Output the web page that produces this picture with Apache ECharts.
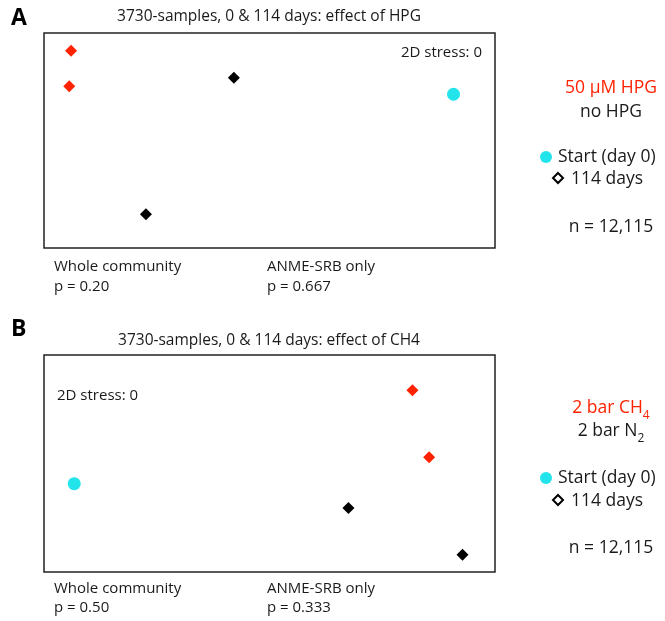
<!DOCTYPE html>
<html>
<head>
<meta charset="utf-8">
<script src="https://cdn.jsdelivr.net/npm/echarts@6/dist/echarts.min.js"></script>
<style>html,body{margin:0;padding:0;background:#fff}#c{width:665px;height:621px}</style>
</head>
<body>
<div id="c"></div>
<script>
// NMDS coordinates (axis units 0-100)
const hpgA = [[6.0, 91.8], [5.6, 75.2]];
const noHpgA = [[42.1, 79.2], [22.6, 15.7]];
const startA = [[90.8, 71.5]];
const ch4B = [[81.7, 83.7], [85.4, 52.9]];
const n2B = [[67.5, 29.5], [92.8, 8.0]];
const startB = [[6.7, 40.7]];

const titles = ['3730-samples, 0 & 114 days: effect of HPG', '3730-samples, 0 & 114 days: effect of CH4'];
const stressLabel = '2D stress: 0';
const pValuesWhole = ['p = 0.20', 'p = 0.50'];
const pValuesAnme = ['p = 0.667', 'p = 0.333'];
const nLabel = 'n = 12,115';

const FONT = '"Open Sans", "Noto Sans", sans-serif';
const RED = '#ff2200';
const CYAN = '#22e4ea';
const INK = '#1a1a1a';

const chart = echarts.init(document.getElementById('c'), null, {renderer: 'canvas'});

function axis(idx) {
  return {gridIndex: idx, type: 'value', min: 0, max: 100, show: false,
          splitLine: {show: false}};
}
function scatter(name, data, idx, symbol, color, size) {
  return {type: 'scatter', name, data, xAxisIndex: idx, yAxisIndex: idx,
          symbol, symbolSize: size, itemStyle: {color, opacity: 1}, silent: true, z: 3};
}
function txt(text, x, y, opt) {
  return {type: 'text', silent: true, style: Object.assign({text, x, y, fill: INK,
    font: '15px ' + FONT, textAlign: 'left', textVerticalAlign: 'middle'}, opt || {})};
}
const LF = '17.5px ' + FONT;
function subText(main, sub, x, y, color) {
  return {type: 'text', silent: true, style: {x, y, fill: color, textAlign: 'center', textVerticalAlign: 'middle',
    text: '{m|' + main + '}{s|' + sub + '}',
    rich: {m: {fontSize: 17.5, fontFamily: FONT, fill: color, color, lineHeight: 22, verticalAlign: 'top'},
           s: {fontSize: 12, fontFamily: FONT, fill: color, color, lineHeight: 22, verticalAlign: 'top', padding: [11, 0, 0, 0]}}}};
}

const graphics = [
  txt('A', 11, 18, {font: 'bold 23px ' + FONT, fill: '#000'}),
  txt('B', 11, 329, {font: 'bold 23px ' + FONT, fill: '#000'}),
  txt(titles[0], 269, 17, {textAlign: 'center', font: '15.5px ' + FONT}),
  txt(titles[1], 269, 341, {textAlign: 'center', font: '15.5px ' + FONT}),
  txt(stressLabel, 482, 53, {textAlign: 'right', font: '15px ' + FONT}),
  txt(stressLabel, 57, 396, {font: '15px ' + FONT}),
  txt('Whole community', 54, 267),
  txt(pValuesWhole[0], 54, 287),
  txt('ANME-SRB only', 267, 267),
  txt(pValuesAnme[0], 267, 287),
  txt('Whole community', 54, 589),
  txt(pValuesWhole[1], 54, 608),
  txt('ANME-SRB only', 267, 589),
  txt(pValuesAnme[1], 267, 608),
  // legend A
  txt('50 µM HPG', 611, 88, {textAlign: 'center', fill: RED, font: LF}),
  txt('no HPG', 611, 112, {textAlign: 'center', font: LF}),
  {type: 'circle', silent: true, shape: {cx: 546, cy: 157, r: 6}, style: {fill: CYAN}},
  txt('Start (day 0)', 558, 157, {font: LF}),
  {type: 'polygon', silent: true, shape: {points: [[558, 173], [563, 178], [558, 183], [553, 178]]},
   style: {fill: '#fff', stroke: '#000', lineWidth: 2}},
  txt('114 days', 571, 179, {font: LF}),
  txt(nLabel, 611, 227, {textAlign: 'center', font: LF}),
  // legend B
  subText('2 bar CH', '4', 611, 410, RED),
  subText('2 bar N', '2', 611, 433, INK),
  {type: 'circle', silent: true, shape: {cx: 546, cy: 478, r: 6}, style: {fill: CYAN}},
  txt('Start (day 0)', 558, 478, {font: LF}),
  {type: 'polygon', silent: true, shape: {points: [[558, 495], [563, 500], [558, 505], [553, 500]]},
   style: {fill: '#fff', stroke: '#000', lineWidth: 2}},
  txt('114 days', 571, 501, {font: LF}),
  txt(nLabel, 611, 548, {textAlign: 'center', font: LF})
];

chart.setOption({
  animation: false,
  backgroundColor: '#fff',
  grid: [
    {left: 44, top: 33, width: 451, height: 215, show: true, borderColor: '#222', borderWidth: 1.5, backgroundColor: '#fff'},
    {left: 44, top: 355, width: 451, height: 217, show: true, borderColor: '#222', borderWidth: 1.5, backgroundColor: '#fff'}
  ],
  xAxis: [axis(0), axis(1)],
  yAxis: [axis(0), axis(1)],
  series: [
    scatter('50 µM HPG', hpgA, 0, 'diamond', RED, 12),
    scatter('no HPG', noHpgA, 0, 'diamond', '#000', 12),
    scatter('Start (day 0)', startA, 0, 'circle', CYAN, 13),
    scatter('2 bar CH4', ch4B, 1, 'diamond', RED, 12),
    scatter('2 bar N2', n2B, 1, 'diamond', '#000', 12),
    scatter('Start (day 0)', startB, 1, 'circle', CYAN, 13)
  ],
  graphic: graphics
});
</script>
</body>
</html>
